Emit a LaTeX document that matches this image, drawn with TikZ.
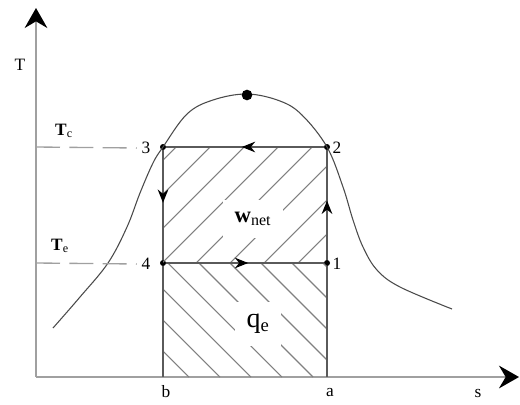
\documentclass[tikz,border=0pt]{standalone}
\usepackage{fontspec}
\setmainfont{Liberation Serif}
\usetikzlibrary{arrows.meta,decorations.markings}
\definecolor{axisgray}{HTML}{A0A0A0}
\definecolor{cycleink}{HTML}{5A5A5A}
\definecolor{hatchink}{HTML}{808080}
\definecolor{domeink}{HTML}{4A4A4A}

\begin{document}
\begin{tikzpicture}[
  x=0.75pt,
  y=-0.75pt,
  every node/.style={font=\fontsize{13}{15}\selectfont, black},
  axis/.style={axisgray, line width=1.6pt,
               -{Stealth[length=15pt, width=17pt, inset=5pt, color=black]}},
  cycleline/.style={cycleink, line width=1pt},
  isoline/.style={axisgray, line width=1pt, dash pattern=on 18pt off 7pt},
  dome/.style={domeink, line width=0.8pt},
  hatch/.style={hatchink, line width=0.8pt},
  cyclept/.style={circle, fill=black, inner sep=0pt, minimum size=4.5pt},
  critpt/.style={circle, fill=black, inner sep=0pt, minimum size=8pt},
  flowmark/.style={postaction={decorate},
    decoration={markings, mark=at position #1 with
      {\arrow{Stealth[length=10pt, width=8pt, color=black]}}}},
  arealabel/.style={fill=white, inner sep=9pt}
]
  \useasboundingbox (0,0) rectangle (520,404);

  % ---- axes ----
  \coordinate (o)    at (36,377);
  \coordinate (ytip) at (36,8);
  \coordinate (xtip) at (519,377);
  \draw[axis] (o) -- (ytip);
  \draw[axis] (o) -- (xtip);

  % ---- cycle state points ----
  \node[cyclept] (p1) at (327,263) {};
  \node[cyclept] (p2) at (327,147) {};
  \node[cyclept] (p3) at (163,147) {};
  \node[cyclept] (p4) at (163,263) {};
  \coordinate (b)  at (163,377);
  \coordinate (a)  at (327,377);
  \coordinate (tc) at (36,147);
  \coordinate (te) at (36,263);

  % ---- hatching of the two areas ----
  \begin{scope}
    \clip (p3.center) rectangle (p1.center);
    \foreach \s in {60,94,...,330}
      \draw[hatch] (\s,263) -- ++(116,-116);
  \end{scope}
  \begin{scope}
    \clip (p4.center) rectangle (a);
    \foreach \s in {44,75,...,330}
      \draw[hatch] (\s,263) -- ++(114,114);
  \end{scope}

  % ---- area labels ----
  \node[arealabel] (wnet) at (253,219)
    {\fontsize{17}{19}\selectfont\textbf{w}\textsubscript{\fontsize{12}{14}\selectfont net}};
  \node[arealabel] (qe) at (258,324)
    {\fontsize{21}{23}\selectfont q\textsubscript{\fontsize{14}{16}\selectfont e}};

  % ---- saturation dome ----
  \draw[dome] plot[smooth, tension=0.6] coordinates {
    (53,328) (80,297) (108,263) (127,227) (140,193) (153,163) (163,147)
    (187,114) (213,100) (247,94) (280,101) (302,115) (327,147)
    (343,187) (353,220) (363,247) (377,270) (400,287) (452,309)};
  \node[critpt] (crit) at (247,95) {};

  % ---- point labels ----
  \node (n1) at (337,264) {1};
  \node (n2) at (337,148) {2};
  \node (n3) at (146,148) {3};
  \node (n4) at (146,264) {4};
  \node (lb) at (166,392) {b};
  \node (la) at (330,393) {a};
  \node (ls) at (478,393) {s};
  \node (lT) at (20,65) {T};
  \node (lTc) at (64,131) {\textbf{T}\textsubscript{c}};
  \node (lTe) at (60,246) {\textbf{T}\textsubscript{e}};

  % ---- isotherms to the T axis ----
  \draw[isoline] (tc) -- (n3.west);
  \draw[isoline] (te) -- (n4.west);

  % ---- the cycle ----
  \draw[cycleline, flowmark=0.52] (p2) -- (p3);
  \draw[cycleline, flowmark=0.48] (p3) -- (p4);
  \draw[cycleline, flowmark=0.52] (p4) -- (p1);
  \draw[cycleline, flowmark=0.54] (p1) -- (p2);
  \draw[cycleline] (p4) -- (b);
  \draw[cycleline] (p1) -- (a);
\end{tikzpicture}
\end{document}
